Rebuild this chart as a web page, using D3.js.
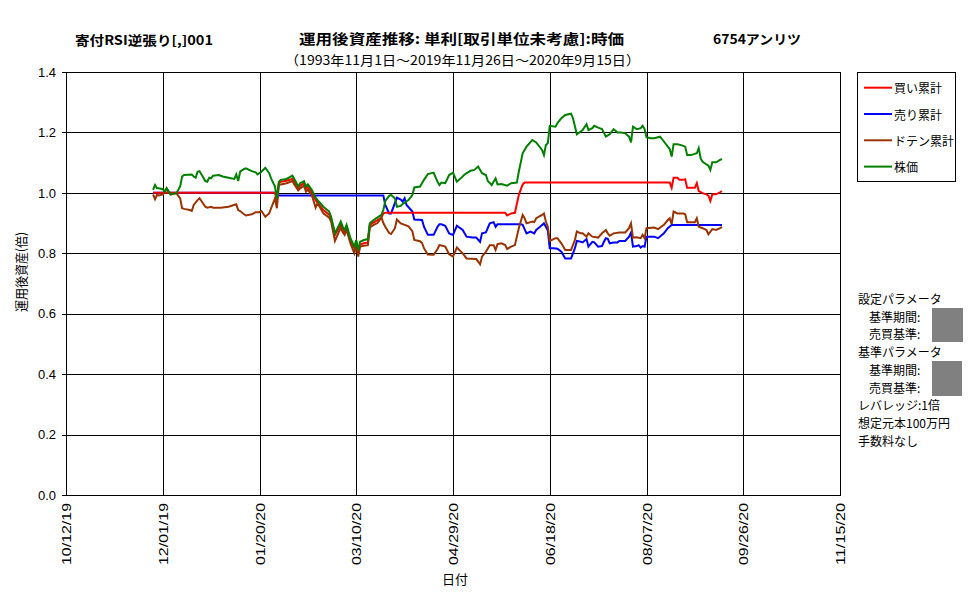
<!DOCTYPE html>
<html>
<head>
<meta charset="utf-8">
<script src="https://cdn.jsdelivr.net/npm/d3@7"></script>
<style>
  body { margin: 0; background: #fff; }
  text { font-family: "Noto Sans CJK JP", "Noto Sans", sans-serif; fill: #000; }
  .num { font-family: "Liberation Sans", Arial, sans-serif; }
</style>
</head>
<body>
<div id="chart"></div>
<script>
const svgWidth = 977;
const svgHeight = 600;

const margin = { top: 72, right: 137, bottom: 105, left: 66 };
const width = svgWidth - margin.left - margin.right;
const height = svgHeight - margin.top - margin.bottom;

// tick labels
const xTickLabels = ["10/12/19", "12/01/19", "01/20/20", "03/10/20", "04/29/20",
  "06/18/20", "08/07/20", "09/26/20", "11/15/20"];
const yTicks = [0, 0.2, 0.4, 0.6, 0.8, 1.0, 1.2, 1.4];

const seriesNames = ["買い累計", "売り累計", "ドテン累計", "株価"];
const seriesColors = ["#ff0000", "#0000ff", "#993300", "#008000"];

// 買い累計
const buyData = [
  ["2019-11-26", 1.0], ["2020-01-28", 1.0], ["2020-01-29", 0.975], ["2020-01-30", 1.032],
  ["2020-01-31", 1.037], ["2020-02-03", 1.040], ["2020-02-06", 1.046], ["2020-02-07", 1.035],
  ["2020-02-09", 1.015], ["2020-02-10", 1.024], ["2020-02-12", 1.032], ["2020-02-13", 1.013],
  ["2020-02-14", 1.020], ["2020-02-16", 1.002], ["2020-02-18", 0.976], ["2020-02-19", 0.968],
  ["2020-02-22", 0.943], ["2020-02-25", 0.928], ["2020-02-26", 0.916], ["2020-02-28", 0.861],
  ["2020-03-02", 0.896], ["2020-03-03", 0.880], ["2020-03-04", 0.869], ["2020-03-05", 0.886],
  ["2020-03-07", 0.841], ["2020-03-09", 0.817], ["2020-03-10", 0.836], ["2020-03-11", 0.803],
  ["2020-03-12", 0.829], ["2020-03-14", 0.833], ["2020-03-16", 0.836], ["2020-03-17", 0.894],
  ["2020-03-19", 0.902], ["2020-03-21", 0.910], ["2020-03-23", 0.918], ["2020-03-24", 0.932],
  ["2020-03-25", 0.934], ["2020-05-26", 0.934], ["2020-05-27", 0.925], ["2020-05-29", 0.932],
  ["2020-05-31", 0.934], ["2020-06-02", 0.993], ["2020-06-04", 1.028], ["2020-06-05", 1.034],
  ["2020-08-19", 1.034], ["2020-08-20", 1.017], ["2020-08-21", 1.050], ["2020-08-23", 1.050],
  ["2020-08-24", 1.043], ["2020-08-26", 1.043], ["2020-08-27", 1.045], ["2020-08-28", 1.017],
  ["2020-09-01", 1.017], ["2020-09-02", 1.032], ["2020-09-03", 1.006], ["2020-09-05", 0.999],
  ["2020-09-07", 0.995], ["2020-09-08", 0.991], ["2020-09-09", 0.973], ["2020-09-10", 0.995],
  ["2020-09-12", 0.995], ["2020-09-14", 1.002], ["2020-09-15", 1.006]
];

// 売り累計
const sellData = [
  ["2019-11-26", 1.0], ["2020-01-28", 1.0], ["2020-01-30", 0.991], ["2020-03-24", 0.991],
  ["2020-03-25", 0.960], ["2020-03-27", 0.932], ["2020-03-28", 0.932], ["2020-03-31", 0.984],
  ["2020-04-02", 0.978], ["2020-04-03", 0.971], ["2020-04-04", 0.982], ["2020-04-05", 0.960],
  ["2020-04-08", 0.938], ["2020-04-09", 0.912], ["2020-04-13", 0.910], ["2020-04-14", 0.888],
  ["2020-04-16", 0.861], ["2020-04-19", 0.861], ["2020-04-21", 0.888], ["2020-04-22", 0.896],
  ["2020-04-23", 0.896], ["2020-04-25", 0.891], ["2020-04-27", 0.866], ["2020-04-29", 0.861],
  ["2020-05-01", 0.891], ["2020-05-04", 0.877], ["2020-05-06", 0.855], ["2020-05-09", 0.852],
  ["2020-05-11", 0.852], ["2020-05-13", 0.838], ["2020-05-14", 0.866], ["2020-05-16", 0.869],
  ["2020-05-18", 0.899], ["2020-05-20", 0.903], ["2020-05-21", 0.888], ["2020-05-22", 0.896],
  ["2020-06-03", 0.896], ["2020-06-04", 0.894], ["2020-06-06", 0.866], ["2020-06-08", 0.872],
  ["2020-06-10", 0.866], ["2020-06-11", 0.877], ["2020-06-13", 0.888], ["2020-06-15", 0.899],
  ["2020-06-16", 0.888], ["2020-06-17", 0.875], ["2020-06-18", 0.817], ["2020-06-20", 0.817],
  ["2020-06-22", 0.815], ["2020-06-24", 0.805], ["2020-06-26", 0.783], ["2020-06-29", 0.783],
  ["2020-07-01", 0.817], ["2020-07-02", 0.841], ["2020-07-04", 0.838], ["2020-07-05", 0.836],
  ["2020-07-07", 0.847], ["2020-07-08", 0.822], ["2020-07-10", 0.838], ["2020-07-11", 0.836],
  ["2020-07-13", 0.822], ["2020-07-15", 0.824], ["2020-07-16", 0.838], ["2020-07-17", 0.850],
  ["2020-07-18", 0.848], ["2020-07-19", 0.833], ["2020-07-21", 0.836], ["2020-07-23", 0.836],
  ["2020-07-24", 0.841], ["2020-07-27", 0.841], ["2020-07-29", 0.855], ["2020-07-30", 0.869],
  ["2020-07-31", 0.822], ["2020-08-02", 0.824], ["2020-08-03", 0.827], ["2020-08-04", 0.819],
  ["2020-08-05", 0.824], ["2020-08-06", 0.822], ["2020-08-07", 0.855], ["2020-08-11", 0.855],
  ["2020-08-13", 0.850], ["2020-08-16", 0.866], ["2020-08-18", 0.883], ["2020-08-20", 0.894],
  ["2020-09-15", 0.894]
];

// ドテン累計
const dotenData = [
  ["2019-11-26", 0.995], ["2019-11-27", 0.979], ["2019-11-28", 0.993], ["2019-11-29", 0.991],
  ["2019-12-01", 0.995], ["2019-12-02", 1.002], ["2019-12-03", 1.015], ["2019-12-04", 1.002],
  ["2019-12-05", 0.995], ["2019-12-08", 0.999], ["2019-12-10", 0.982], ["2019-12-11", 0.949],
  ["2019-12-12", 0.947], ["2019-12-15", 0.943], ["2019-12-16", 0.940], ["2019-12-17", 0.960],
  ["2019-12-19", 0.976], ["2019-12-20", 0.982], ["2019-12-23", 0.954], ["2019-12-24", 0.951],
  ["2019-12-26", 0.954], ["2019-12-27", 0.951], ["2019-12-31", 0.951], ["2020-01-04", 0.954],
  ["2020-01-06", 0.958], ["2020-01-08", 0.962], ["2020-01-09", 0.943], ["2020-01-10", 0.940],
  ["2020-01-12", 0.929], ["2020-01-13", 0.925], ["2020-01-16", 0.929], ["2020-01-18", 0.936],
  ["2020-01-20", 0.936], ["2020-01-21", 0.940], ["2020-01-23", 0.921], ["2020-01-25", 0.932],
  ["2020-01-26", 0.949], ["2020-01-28", 0.982], ["2020-01-29", 0.949], ["2020-01-30", 1.026],
  ["2020-01-31", 1.028], ["2020-02-03", 1.032], ["2020-02-06", 1.039], ["2020-02-07", 1.028],
  ["2020-02-09", 1.008], ["2020-02-10", 1.015], ["2020-02-12", 1.024], ["2020-02-13", 1.004],
  ["2020-02-14", 1.010], ["2020-02-16", 0.993], ["2020-02-18", 0.951], ["2020-02-19", 0.966],
  ["2020-02-22", 0.932], ["2020-02-25", 0.918], ["2020-02-26", 0.905], ["2020-02-28", 0.841],
  ["2020-03-02", 0.885], ["2020-03-03", 0.870], ["2020-03-04", 0.861], ["2020-03-05", 0.878],
  ["2020-03-07", 0.833], ["2020-03-09", 0.800], ["2020-03-10", 0.826], ["2020-03-11", 0.789],
  ["2020-03-12", 0.822], ["2020-03-14", 0.825], ["2020-03-16", 0.827], ["2020-03-17", 0.886],
  ["2020-03-19", 0.894], ["2020-03-21", 0.900], ["2020-03-23", 0.919], ["2020-03-24", 0.900],
  ["2020-03-25", 0.888], ["2020-03-27", 0.867], ["2020-03-28", 0.864], ["2020-03-30", 0.883],
  ["2020-03-31", 0.912], ["2020-04-02", 0.899], ["2020-04-06", 0.889], ["2020-04-08", 0.873],
  ["2020-04-09", 0.844], ["2020-04-12", 0.840], ["2020-04-13", 0.834], ["2020-04-14", 0.817],
  ["2020-04-16", 0.796], ["2020-04-19", 0.795], ["2020-04-21", 0.814], ["2020-04-22", 0.827],
  ["2020-04-23", 0.826], ["2020-04-25", 0.822], ["2020-04-27", 0.797], ["2020-04-29", 0.789],
  ["2020-05-01", 0.819], ["2020-05-04", 0.800], ["2020-05-06", 0.783], ["2020-05-11", 0.781],
  ["2020-05-13", 0.764], ["2020-05-14", 0.789], ["2020-05-16", 0.805], ["2020-05-18", 0.827],
  ["2020-05-20", 0.827], ["2020-05-21", 0.811], ["2020-05-22", 0.830], ["2020-05-24", 0.833],
  ["2020-05-26", 0.827], ["2020-05-27", 0.814], ["2020-05-29", 0.822], ["2020-05-31", 0.827],
  ["2020-06-02", 0.883], ["2020-06-04", 0.927], ["2020-06-05", 0.916], ["2020-06-06", 0.899],
  ["2020-06-09", 0.905], ["2020-06-10", 0.903], ["2020-06-11", 0.916], ["2020-06-14", 0.927],
  ["2020-06-15", 0.932], ["2020-06-16", 0.905], ["2020-06-17", 0.888], ["2020-06-18", 0.841],
  ["2020-06-21", 0.850], ["2020-06-22", 0.850], ["2020-06-24", 0.833], ["2020-06-26", 0.811],
  ["2020-06-29", 0.811], ["2020-07-01", 0.844], ["2020-07-02", 0.872], ["2020-07-04", 0.866],
  ["2020-07-05", 0.866], ["2020-07-07", 0.855], ["2020-07-08", 0.866], ["2020-07-10", 0.855],
  ["2020-07-13", 0.852], ["2020-07-15", 0.866], ["2020-07-17", 0.877], ["2020-07-18", 0.866],
  ["2020-07-19", 0.858], ["2020-07-21", 0.866], ["2020-07-24", 0.869], ["2020-07-27", 0.869],
  ["2020-07-29", 0.883], ["2020-07-30", 0.899], ["2020-07-31", 0.852], ["2020-08-02", 0.853],
  ["2020-08-04", 0.850], ["2020-08-05", 0.861], ["2020-08-06", 0.850], ["2020-08-07", 0.883],
  ["2020-08-11", 0.885], ["2020-08-13", 0.880], ["2020-08-16", 0.894], ["2020-08-18", 0.910],
  ["2020-08-19", 0.916], ["2020-08-20", 0.896], ["2020-08-21", 0.938], ["2020-08-23", 0.932],
  ["2020-08-26", 0.932], ["2020-08-27", 0.929], ["2020-08-28", 0.903], ["2020-09-01", 0.903],
  ["2020-09-02", 0.916], ["2020-09-03", 0.888], ["2020-09-05", 0.883], ["2020-09-07", 0.877],
  ["2020-09-08", 0.863], ["2020-09-10", 0.880], ["2020-09-12", 0.877], ["2020-09-14", 0.883],
  ["2020-09-15", 0.888]
];

// 株価
const priceData = [
  ["2019-11-26", 1.010], ["2019-11-27", 1.026], ["2019-11-28", 1.015], ["2019-11-29", 1.015],
  ["2019-12-01", 1.012], ["2019-12-02", 1.004], ["2019-12-03", 1.015], ["2019-12-04", 1.006],
  ["2019-12-05", 0.995], ["2019-12-08", 0.999], ["2019-12-10", 1.021], ["2019-12-11", 1.054],
  ["2019-12-12", 1.059], ["2019-12-16", 1.061], ["2019-12-17", 1.054], ["2019-12-18", 1.050],
  ["2019-12-19", 1.070], ["2019-12-20", 1.072], ["2019-12-23", 1.039], ["2019-12-24", 1.037],
  ["2019-12-25", 1.050], ["2019-12-26", 1.048], ["2019-12-27", 1.057], ["2019-12-30", 1.059],
  ["2020-01-01", 1.054], ["2020-01-04", 1.050], ["2020-01-07", 1.046], ["2020-01-08", 1.061],
  ["2020-01-09", 1.039], ["2020-01-10", 1.070], ["2020-01-12", 1.079], ["2020-01-13", 1.081],
  ["2020-01-16", 1.072], ["2020-01-18", 1.068], ["2020-01-19", 1.061], ["2020-01-21", 1.070],
  ["2020-01-23", 1.083], ["2020-01-25", 1.065], ["2020-01-26", 1.048], ["2020-01-28", 1.021],
  ["2020-01-29", 0.982], ["2020-01-30", 1.037], ["2020-01-31", 1.043], ["2020-02-03", 1.046],
  ["2020-02-06", 1.057], ["2020-02-07", 1.046], ["2020-02-09", 1.021], ["2020-02-10", 1.032],
  ["2020-02-12", 1.039], ["2020-02-13", 1.021], ["2020-02-14", 1.028], ["2020-02-16", 1.010],
  ["2020-02-18", 0.984], ["2020-02-19", 0.976], ["2020-02-22", 0.954], ["2020-02-25", 0.938],
  ["2020-02-26", 0.921], ["2020-02-28", 0.866], ["2020-03-02", 0.905], ["2020-03-03", 0.888],
  ["2020-03-04", 0.877], ["2020-03-05", 0.894], ["2020-03-07", 0.850], ["2020-03-09", 0.822],
  ["2020-03-10", 0.844], ["2020-03-11", 0.811], ["2020-03-12", 0.838], ["2020-03-14", 0.844],
  ["2020-03-16", 0.847], ["2020-03-17", 0.899], ["2020-03-19", 0.910], ["2020-03-21", 0.919],
  ["2020-03-23", 0.927], ["2020-03-24", 0.943], ["2020-03-25", 0.973], ["2020-03-27", 0.990],
  ["2020-03-28", 0.993], ["2020-03-30", 0.982], ["2020-03-31", 0.954], ["2020-04-02", 0.957],
  ["2020-04-03", 0.963], ["2020-04-06", 0.976], ["2020-04-08", 0.993], ["2020-04-09", 1.018],
  ["2020-04-12", 1.021], ["2020-04-14", 1.043], ["2020-04-16", 1.062], ["2020-04-19", 1.067],
  ["2020-04-21", 1.037], ["2020-04-22", 1.026], ["2020-04-23", 1.034], ["2020-04-25", 1.032],
  ["2020-04-27", 1.059], ["2020-04-29", 1.067], ["2020-05-01", 1.037], ["2020-05-03", 1.048],
  ["2020-05-05", 1.061], ["2020-05-08", 1.073], ["2020-05-10", 1.076], ["2020-05-12", 1.087],
  ["2020-05-14", 1.065], ["2020-05-16", 1.059], ["2020-05-17", 1.039], ["2020-05-19", 1.026],
  ["2020-05-21", 1.048], ["2020-05-22", 1.028], ["2020-05-24", 1.029], ["2020-05-27", 1.024],
  ["2020-05-29", 1.032], ["2020-06-01", 1.034], ["2020-06-02", 1.070], ["2020-06-04", 1.131],
  ["2020-06-06", 1.153], ["2020-06-09", 1.175], ["2020-06-11", 1.167], ["2020-06-14", 1.142],
  ["2020-06-15", 1.125], ["2020-06-16", 1.158], ["2020-06-17", 1.164], ["2020-06-18", 1.222],
  ["2020-06-21", 1.219], ["2020-06-22", 1.231], ["2020-06-24", 1.247], ["2020-06-26", 1.258],
  ["2020-06-29", 1.262], ["2020-06-30", 1.247], ["2020-07-02", 1.194], ["2020-07-04", 1.203],
  ["2020-07-05", 1.208], ["2020-07-07", 1.227], ["2020-07-08", 1.208], ["2020-07-10", 1.214],
  ["2020-07-11", 1.222], ["2020-07-13", 1.216], ["2020-07-15", 1.211], ["2020-07-17", 1.186],
  ["2020-07-19", 1.194], ["2020-07-21", 1.211], ["2020-07-23", 1.200], ["2020-07-25", 1.200],
  ["2020-07-27", 1.197], ["2020-07-29", 1.186], ["2020-07-30", 1.167], ["2020-07-31", 1.219],
  ["2020-08-02", 1.211], ["2020-08-04", 1.214], ["2020-08-05", 1.222], ["2020-08-06", 1.211],
  ["2020-08-07", 1.184], ["2020-08-09", 1.181], ["2020-08-11", 1.181], ["2020-08-14", 1.186],
  ["2020-08-16", 1.170], ["2020-08-18", 1.153], ["2020-08-19", 1.145], ["2020-08-20", 1.120],
  ["2020-08-21", 1.161], ["2020-08-23", 1.161], ["2020-08-25", 1.158], ["2020-08-27", 1.153],
  ["2020-08-28", 1.125], ["2020-08-30", 1.125], ["2020-09-02", 1.131], ["2020-09-03", 1.148],
  ["2020-09-04", 1.114], ["2020-09-05", 1.103], ["2020-09-07", 1.094], ["2020-09-08", 1.090],
  ["2020-09-09", 1.076], ["2020-09-10", 1.101], ["2020-09-12", 1.101], ["2020-09-14", 1.109],
  ["2020-09-15", 1.112]
];

// right side notes
const paramLines = [
  { text: "設定パラメータ", indent: false },
  { text: "基準期間:", indent: true },
  { text: "売買基準:", indent: true },
  { text: "基準パラメータ", indent: false },
  { text: "基準期間:", indent: true },
  { text: "売買基準:", indent: true },
  { text: "レバレッジ:1倍", indent: false },
  { text: "想定元本100万円", indent: false },
  { text: "手数料なし", indent: false }
];

const parseDate = d3.timeParse("%Y-%m-%d");
const parseTick = d3.timeParse("%m/%d/%y");

const svg = d3.select("#chart")
  .append("svg")
  .attr("width", svgWidth)
  .attr("height", svgHeight);

// titles
svg.append("text")
  .attr("x", 75).attr("y", 45)
  .attr("font-size", 13).attr("font-weight", "bold")
  .attr("textLength", 138).attr("lengthAdjust", "spacingAndGlyphs")
  .text("寄付RSI逆張り[,]001");

svg.append("text")
  .attr("x", 299).attr("y", 44)
  .attr("font-size", 14).attr("font-weight", "bold")
  .attr("textLength", 325).attr("lengthAdjust", "spacingAndGlyphs")
  .text("運用後資産推移: 単利[取引単位未考慮]:時価");

svg.append("text")
  .attr("x", 713).attr("y", 44)
  .attr("font-size", 13).attr("font-weight", "bold")
  .attr("textLength", 88).attr("lengthAdjust", "spacingAndGlyphs")
  .text("6754アンリツ");

svg.append("text")
  .attr("x", 285).attr("y", 65)
  .attr("font-size", 13)
  .attr("textLength", 355).attr("lengthAdjust", "spacingAndGlyphs")
  .text("（1993年11月1日～2019年11月26日～2020年9月15日）");

const chartGroup = svg.append("g")
  .attr("transform", `translate(${margin.left}, ${margin.top})`);

// scales
const xScale = d3.scaleTime()
  .domain([parseTick(xTickLabels[0]), parseTick(xTickLabels[xTickLabels.length - 1])])
  .range([0, width]);

const yScale = d3.scaleLinear()
  .domain([0, 1.4])
  .range([height, 0]);

const xTickDates = xTickLabels.map(parseTick);

// gridlines
chartGroup.append("g")
  .attr("class", "grid")
  .call(d3.axisBottom(xScale).tickValues(xTickDates).tickSize(height).tickFormat(""))
  .call(g => g.select(".domain").remove())
  .selectAll("line").attr("stroke", "#000").attr("shape-rendering", "crispEdges");

chartGroup.append("g")
  .attr("class", "grid")
  .call(d3.axisLeft(yScale).tickValues(yTicks).tickSize(-width).tickFormat(""))
  .call(g => g.select(".domain").remove())
  .selectAll("line").attr("stroke", "#000").attr("shape-rendering", "crispEdges");

// frame
chartGroup.append("rect")
  .attr("x", 0).attr("y", 0)
  .attr("width", width).attr("height", height)
  .attr("fill", "none").attr("stroke", "#000")
  .attr("shape-rendering", "crispEdges");

// y axis
const yAxis = chartGroup.append("g")
  .call(d3.axisLeft(yScale).tickValues(yTicks).tickSize(4).tickPadding(6)
    .tickFormat(d => d.toFixed(1)));
yAxis.select(".domain").remove();
yAxis.selectAll("line").attr("stroke", "#000").attr("shape-rendering", "crispEdges");
yAxis.selectAll("text")
  .attr("class", "num")
  .attr("font-size", 13)
  .attr("fill", "#000");

// x tick labels (rotated)
chartGroup.append("g")
  .selectAll("text")
  .data(xTickLabels)
  .enter()
  .append("text")
  .attr("class", "num")
  .attr("transform", d => `translate(${xScale(parseTick(d)) + 1}, ${height + 8}) rotate(-90)`)
  .attr("text-anchor", "end")
  .attr("dy", "0.35em")
  .attr("font-size", 12)
  .attr("textLength", 62).attr("lengthAdjust", "spacingAndGlyphs")
  .text(d => d);

// axis titles
svg.append("text")
  .attr("x", 455).attr("y", 578)
  .attr("text-anchor", "middle")
  .attr("dominant-baseline", "central")
  .attr("font-size", 13)
  .text("日付");

svg.append("text")
  .attr("transform", "translate(20, 272) rotate(-90)")
  .attr("text-anchor", "middle")
  .attr("dominant-baseline", "central")
  .attr("font-size", 13)
  .attr("fill", "#000")
  .attr("textLength", 80).attr("lengthAdjust", "spacingAndGlyphs")
  .text("運用後資産(倍)");

// lines
const line = d3.line()
  .x(d => xScale(parseDate(d[0])))
  .y(d => yScale(d[1]));

const allSeries = [buyData, sellData, dotenData, priceData];
const drawOrder = [1, 0, 2, 3];

drawOrder.forEach(i => {
  chartGroup.append("path")
    .datum(allSeries[i])
    .attr("fill", "none")
    .attr("stroke", seriesColors[i])
    .attr("stroke-width", 2)
    .attr("stroke-linejoin", "miter")
    .attr("d", line);
});

// legend
const legend = svg.append("g")
  .attr("transform", "translate(857, 72)");

legend.append("rect")
  .attr("x", 0.5).attr("y", 0.5)
  .attr("width", 98).attr("height", 109)
  .attr("fill", "#fff").attr("stroke", "#000");

const legendItems = legend.selectAll("g.item")
  .data(seriesNames)
  .enter()
  .append("g")
  .attr("class", "item")
  .attr("transform", (d, i) => `translate(0, ${15.7 + i * 26.3})`);

legendItems.append("line")
  .attr("x1", 7).attr("x2", 35)
  .attr("y1", 0).attr("y2", 0)
  .attr("stroke", (d, i) => seriesColors[i])
  .attr("stroke-width", 2);

legendItems.append("text")
  .attr("x", 37).attr("y", 0)
  .attr("dominant-baseline", "central")
  .attr("font-size", 12)
  .text(d => d);

// parameter notes
const notes = svg.append("g");
notes.selectAll("text")
  .data(paramLines)
  .enter()
  .append("text")
  .attr("x", d => d.indent ? 869 : 858)
  .attr("y", (d, i) => 298.5 + i * 17.7)
  .attr("dominant-baseline", "central")
  .attr("font-size", 12)
  .text(d => d.text);

// hidden parameter values
notes.append("rect")
  .attr("x", 932).attr("y", 308).attr("width", 31).attr("height", 34)
  .attr("fill", "#808080");
notes.append("rect")
  .attr("x", 932).attr("y", 361).attr("width", 30).attr("height", 35)
  .attr("fill", "#808080");
</script>
</body>
</html>
